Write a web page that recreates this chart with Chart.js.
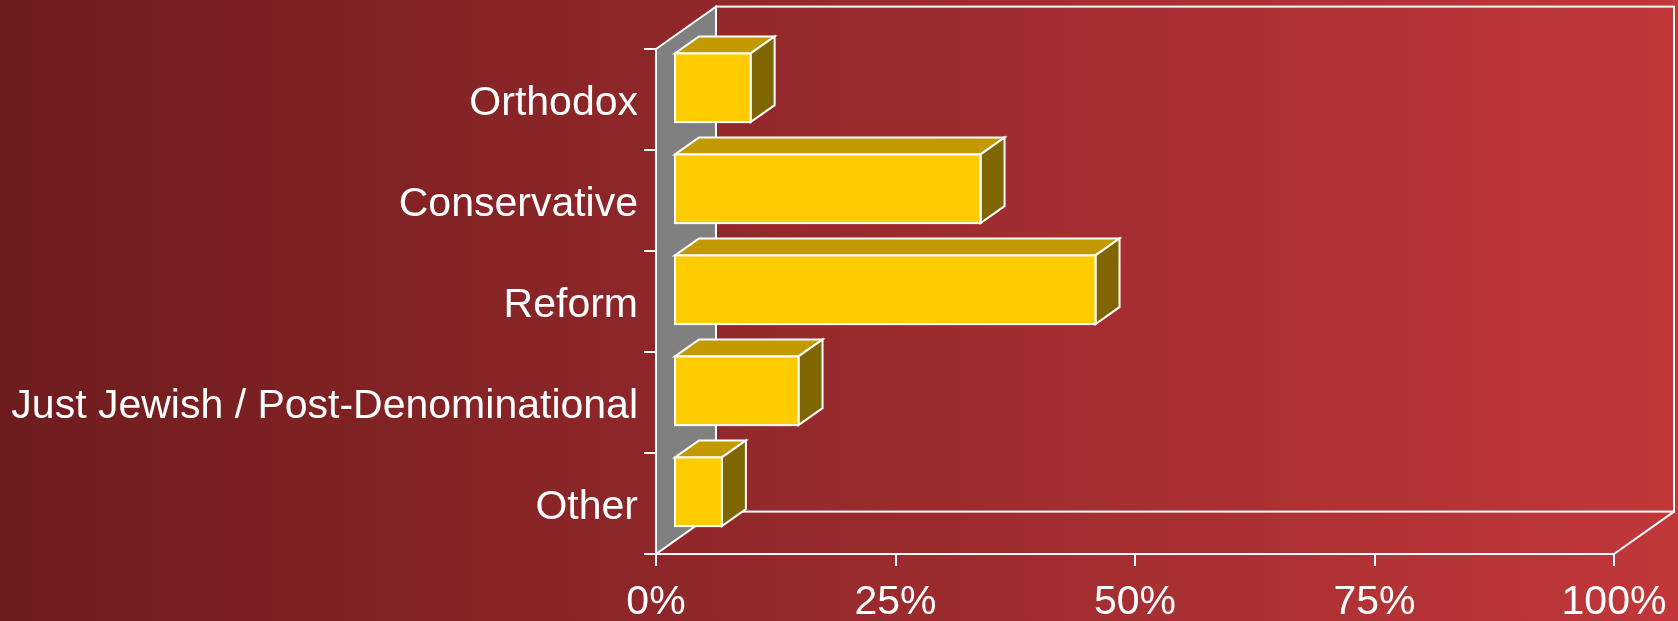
<!DOCTYPE html>
<html><head><meta charset="utf-8">
<style>
html,body{margin:0;padding:0;background:#6f1c1e;overflow:hidden}
#wrap{width:1678px;height:621px;position:relative}
canvas{display:block}
</style>
<script src="https://cdn.jsdelivr.net/npm/chart.js@4.4.1/dist/chart.umd.min.js"></script>
</head><body>
<div id="wrap"><canvas id="c" width="1678" height="621"></canvas></div>
<script>
// ---- data ----
const categories = ['Orthodox', 'Conservative', 'Reform', 'Just Jewish / Post-Denominational', 'Other'];
const shares = [8, 32, 44, 13, 5];
const xTickValues = [0, 25, 50, 75, 100];
const xTickLabels = ['0%', '25%', '50%', '75%', '100%'];

// ---- style ----
const DX = 60, DY = 42.4;          // depth of the 3D box
const FRONT = 0.3, THICK = 0.4;    // bar front offset / bar depth as fraction of depth
const FONT = {family: '"Liberation Sans", Arial, sans-serif', size: 41};

const threeD = {
  id: 'threeD',
  beforeDraw(chart) {
    const {ctx, width, height, chartArea: a} = chart;
    ctx.save();
    const g = ctx.createLinearGradient(0, 0, width, 0);
    g.addColorStop(0, '#6e1c1e');
    g.addColorStop(1, '#c1373a');
    ctx.fillStyle = g;
    ctx.fillRect(0, 0, width, height);
    ctx.strokeStyle = '#ffffff';
    ctx.lineWidth = 2;
    ctx.lineJoin = 'miter';
    // side wall
    ctx.fillStyle = '#808080';
    ctx.beginPath();
    ctx.moveTo(a.left, a.top);
    ctx.lineTo(a.left + DX, a.top - DY);
    ctx.lineTo(a.left + DX, a.bottom - DY);
    ctx.lineTo(a.left, a.bottom);
    ctx.closePath();
    ctx.fill();
    ctx.stroke();
    // back wall
    ctx.strokeRect(a.left + DX, a.top - DY, a.right - a.left, a.bottom - a.top);
    // floor right edge
    ctx.beginPath();
    ctx.moveTo(a.right, a.bottom);
    ctx.lineTo(a.right + DX, a.bottom - DY);
    ctx.stroke();
    ctx.restore();
  },
  afterDatasetsDraw(chart) {
    const ctx = chart.ctx;
    const meta = chart.getDatasetMeta(0);
    const fx = DX * FRONT, fy = DY * FRONT, bx = DX * THICK, by = DY * THICK;
    ctx.save();
    ctx.strokeStyle = '#ffffff';
    ctx.lineWidth = 2;
    ctx.lineJoin = 'miter';
    meta.data.forEach(bar => {
      const p = bar.getProps(['x', 'y', 'base', 'height'], true);
      const l = p.base + fx, r = p.x + fx;
      const t = p.y - p.height / 2 - fy + 1, b = p.y + p.height / 2 - fy + 1;
      // top face
      ctx.fillStyle = '#c29a00';
      ctx.beginPath();
      ctx.moveTo(l, t); ctx.lineTo(l + bx, t - by); ctx.lineTo(r + bx, t - by); ctx.lineTo(r, t);
      ctx.closePath(); ctx.fill(); ctx.stroke();
      // side face
      ctx.fillStyle = '#806600';
      ctx.beginPath();
      ctx.moveTo(r, t); ctx.lineTo(r + bx, t - by); ctx.lineTo(r + bx, b - by); ctx.lineTo(r, b);
      ctx.closePath(); ctx.fill(); ctx.stroke();
      // front face
      ctx.fillStyle = '#ffcc00';
      ctx.fillRect(l, t, r - l, b - t);
      ctx.strokeRect(l, t, r - l, b - t);
    });
    ctx.restore();
  }
};

new Chart(document.getElementById('c'), {
  type: 'bar',
  data: {
    labels: categories,
    datasets: [{
      data: shares,
      backgroundColor: 'rgba(0,0,0,0)',
      borderWidth: 0,
      barPercentage: 0.68,
      categoryPercentage: 1
    }]
  },
  options: {
    indexAxis: 'y',
    responsive: false,
    animation: false,
    devicePixelRatio: 1,
    layout: {padding: {top: 49, right: 64, left: 0, bottom: 0}},
    plugins: {legend: {display: false}, tooltip: {enabled: false}},
    scales: {
      x: {
        type: 'linear', min: 0, max: 100,
        afterBuildTicks: s => { s.ticks = xTickValues.map(v => ({value: v})); },
        afterFit: s => { s.height = 67; s.paddingLeft = 0; s.paddingRight = 0; },
        grid: {drawOnChartArea: false, color: '#ffffff', lineWidth: 2, tickLength: 12},
        border: {color: '#ffffff', width: 2},
        ticks: {
          color: '#ffffff', font: FONT, padding: 12, maxRotation: 0,
          callback: (v, i) => xTickLabels[i]
        }
      },
      y: {
        type: 'category',
        afterFit: s => { s.width = 656; s.paddingTop = 0; s.paddingBottom = 0; },
        grid: {drawOnChartArea: false, offset: true, color: '#ffffff', lineWidth: 2, tickLength: 12},
        border: {color: '#ffffff', width: 2},
        ticks: {color: '#ffffff', font: FONT, padding: 6, labelOffset: 4}
      }
    }
  },
  plugins: [threeD]
});
</script>
</body></html>
